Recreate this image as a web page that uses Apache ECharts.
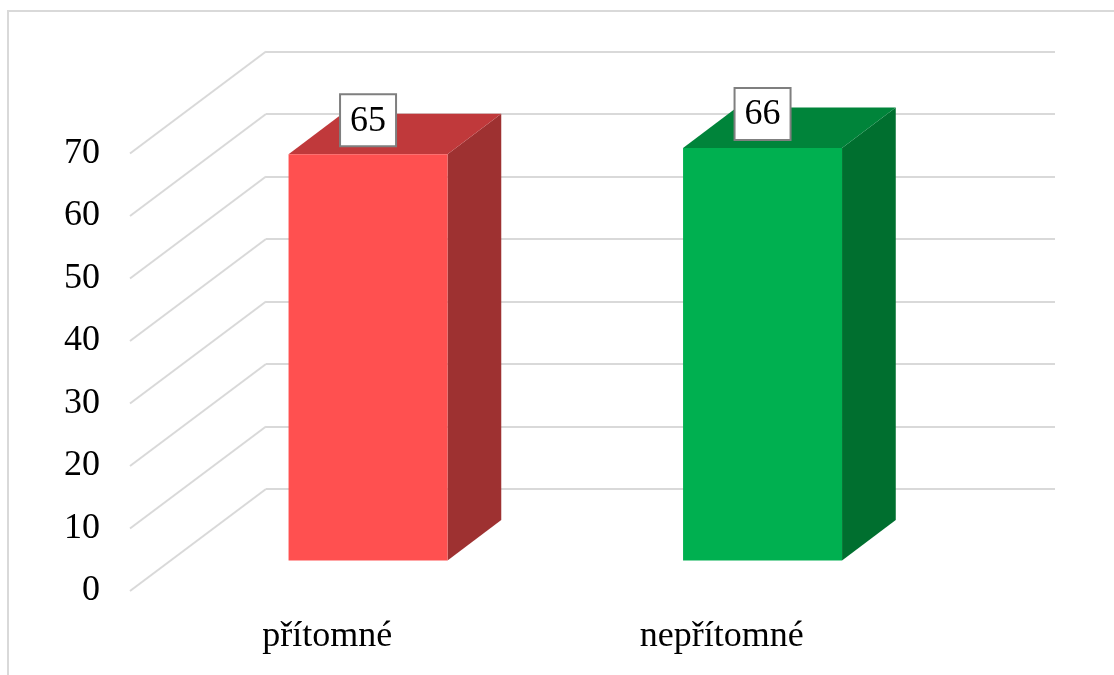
<!DOCTYPE html>
<html>
<head>
<meta charset="utf-8">
<script src="https://cdn.jsdelivr.net/npm/echarts@6/dist/echarts.min.js"></script>
<style>
  html, body { margin: 0; padding: 0; background: #fff; }
  #chart { width: 1114px; height: 675px; }
</style>
</head>
<body>
<div id="chart"></div>
<script>
// Categories and counts
const categories = ['přítomné', 'nepřítomné'];
const counts = [65, 66];
const yTicks = [0, 10, 20, 30, 40, 50, 60, 70];

// Face colours per bar: front, top, side
const frontColors = ['#FF5050', '#00B050'];
const topColors = ['#C0393B', '#00843A'];
const sideColors = ['#9E3131', '#006F2F'];

// Perspective vector from the front plane to the back wall (pixels)
const DEPTH = [136, -102];
// Bar occupies this slice of the depth
const BAR_D0 = 0.30, BAR_D1 = 0.695;
const FONT = "'Liberation Serif', 'Times New Roman', serif";
const FONT_SIZE = 36;
const GRID_COLOR = '#d9d9d9';

const chart = echarts.init(document.getElementById('chart'));

const frontGrid = { left: 130, right: 195, top: 153.5, bottom: 84 };
const backGrid = {
  left: frontGrid.left + DEPTH[0],
  right: frontGrid.right - DEPTH[0],
  top: frontGrid.top + DEPTH[1],
  bottom: frontGrid.bottom - DEPTH[1]
};

function renderBar(params, api) {
  const i = api.value(0);
  const v = api.value(1);
  const base = api.coord([i, 0]);
  const top = api.coord([i, v]);
  const band = api.size([1, 0])[0];
  const w = band * 0.403;
  const d0 = [DEPTH[0] * BAR_D0, DEPTH[1] * BAR_D0];
  const d1 = [DEPTH[0] * BAR_D1, DEPTH[1] * BAR_D1];
  const xl = base[0] + d0[0] - w / 2;
  const xr = base[0] + d0[0] + w / 2;
  const yb = base[1] + d0[1];
  const yt = top[1] + d0[1];
  const dx = d1[0] - d0[0], dy = d1[1] - d0[1];
  const cx = (xl + xr) / 2;
  const boxW = 56, boxH = 52;
  const boxBottom = yt - 8;
  return {
    type: 'group',
    children: [
      { type: 'polygon', shape: { points: [[xr, yb], [xr + dx, yb + dy], [xr + dx, yt + dy], [xr, yt]] },
        style: { fill: sideColors[i] } },
      { type: 'polygon', shape: { points: [[xl, yt], [xr, yt], [xr + dx, yt + dy], [xl + dx, yt + dy]] },
        style: { fill: topColors[i] } },
      { type: 'rect', shape: { x: xl, y: yt, width: xr - xl, height: yb - yt },
        style: { fill: frontColors[i] } },
      { type: 'rect', shape: { x: cx - boxW / 2, y: boxBottom - boxH, width: boxW, height: boxH },
        style: { fill: '#ffffff', stroke: '#7f7f7f', lineWidth: 2 } },
      { type: 'text', x: cx, y: boxBottom - boxH / 2 + 1,
        style: { text: String(v), fontSize: FONT_SIZE, fontFamily: FONT, fill: '#000', align: 'center', verticalAlign: 'middle' } }
    ]
  };
}

function renderSideLine(params, api) {
  const v = api.value(0);
  const p = api.coord([0, v]);
  const x0 = params.coordSys.x;
  return {
    type: 'line',
    shape: { x1: x0, y1: p[1], x2: x0 + DEPTH[0], y2: p[1] + DEPTH[1] },
    style: { stroke: GRID_COLOR, lineWidth: 2 }
  };
}

chart.setOption({
  animation: false,
  backgroundColor: '#ffffff',
  graphic: [
    { type: 'rect', shape: { x: 8, y: 11, width: 1300, height: 900 },
      style: { fill: 'none', stroke: GRID_COLOR, lineWidth: 2 }, z: -10 }
  ],
  grid: [
    Object.assign({}, frontGrid),
    Object.assign({}, backGrid)
  ],
  xAxis: [
    { type: 'category', gridIndex: 0, data: categories,
      axisLine: { show: false }, axisTick: { show: false },
      axisLabel: { fontSize: FONT_SIZE, fontFamily: FONT, color: '#000', margin: 28 } },
    { type: 'category', gridIndex: 1, data: categories, show: false }
  ],
  yAxis: [
    { type: 'value', gridIndex: 0, min: 0, max: 70, interval: 10,
      splitLine: { show: false }, axisLine: { show: false }, axisTick: { show: false },
      axisLabel: { fontSize: FONT_SIZE, fontFamily: FONT, color: '#000', margin: 30 } },
    { type: 'value', gridIndex: 1, min: 0, max: 70, interval: 10,
      axisLine: { show: false }, axisTick: { show: false }, axisLabel: { show: false },
      splitLine: { show: true, lineStyle: { color: GRID_COLOR, width: 2 } } }
  ],
  series: [
    { type: 'custom', xAxisIndex: 0, yAxisIndex: 0, renderItem: renderSideLine,
      data: yTicks.map(t => [t]), encode: { y: 0 }, z: 1, silent: true },
    { type: 'custom', xAxisIndex: 0, yAxisIndex: 0, renderItem: renderBar,
      data: counts.map((c, i) => [i, c]), encode: { x: 0, y: 1 }, z: 5, silent: true }
  ]
});
</script>
</body>
</html>
